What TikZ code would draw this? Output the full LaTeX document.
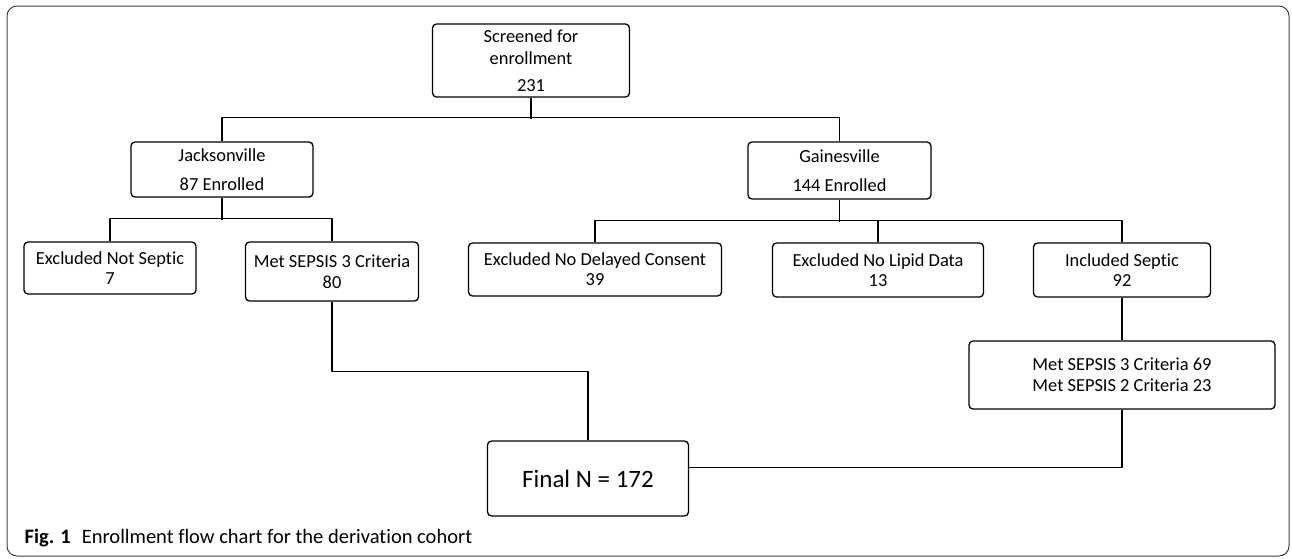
\documentclass[tikz,border=0pt]{standalone}
\usepackage{fontspec}
\setmainfont{Carlito}[RawFeature={-liga}]
\usetikzlibrary{positioning}
\newlength{\lw}
\setlength{\lw}{1.3pt}
\tikzstyle{every picture}+=[x=1pt,y=-1pt]
\tikzstyle{every picture}+=[line width=\lw]
\tikzstyle{every picture}+=[join=round]
\tikzstyle{box}=[draw,rounded corners=4pt,align=center,inner sep=0pt,font=\fontsize{18.4}{21}\selectfont]
\tikzstyle{frame}=[draw=black!75,line width=1pt,rounded corners=10pt]

\begin{document}
\begin{tikzpicture}
\useasboundingbox (0,0) rectangle (1292,558);
\draw[frame] (7,6) rectangle (1289,556);

% top level
\node[box,minimum width=197pt,minimum height=73pt] (screen) at (531,60.5)
  {Screened for\\[1pt]enrollment\\[6pt]231};

% sites
\node[box,minimum width=182pt,minimum height=55pt] (jack) at (222,169.5)
  {Jacksonville\\[8pt]87 Enrolled};
\node[box,minimum width=183pt,minimum height=57pt] (gaine) at (839.5,170.5)
  {Gainesville\\[8pt]144 Enrolled};

% jacksonville branch
\node[box,minimum width=172pt,minimum height=52pt] (notsep) at (110,268)
  {Excluded Not Septic\\[-1pt]7};
\node[box,minimum width=173pt,minimum height=59pt] (met3) at (332,271.5)
  {Met SEPSIS 3 Criteria\\80};

% gainesville branch
\node[box,minimum width=253pt,minimum height=53pt] (consent) at (595,269.5)
  {Excluded No Delayed Consent\\[-1pt]39};
\node[box,minimum width=211pt,minimum height=54pt] (lipid) at (878,270)
  {Excluded No Lipid Data\\[-1pt]13};
\node[box,minimum width=177pt,minimum height=54pt] (incl) at (1122,270)
  {Included Septic\\[-1pt]92};
\node[box,minimum width=306pt,minimum height=68pt] (metboth) at (1122,375)
  {Met SEPSIS 3 Criteria 69\\Met SEPSIS 2 Criteria 23};

% result
\node[box,minimum width=201pt,minimum height=75pt,font=\fontsize{25}{30}\selectfont] (final) at (588,478.5)
  {Final N = 172};

% connectors
\draw (screen.south) -- ++(0,21);
\draw (jack.north) -- ++(0,-24) -| (gaine.north);
\draw (jack.south) -- ++(0,22);
\draw (notsep.north) -- ++(0,-23) -| (met3.north);
\draw (gaine.south) -- ++(0,22);
\draw (consent.north) -- ++(0,-22) -| (incl.north);
\draw (lipid.north) -- ++(0,-22);
\draw (incl) -- (metboth);
\draw (met3.south) -- ++(0,70) -| (final.north);
\draw (metboth.south) -- ++(0,58) coordinate (join) -- (join -| final.east);

% caption
\node[anchor=base west,inner sep=0pt,font=\fontsize{20.5}{24}\selectfont] (cap) at (24,543)
  {\textbf{Fig. 1}\hspace{11pt}Enrollment flow chart for the derivation cohort};
\end{tikzpicture}
\end{document}
